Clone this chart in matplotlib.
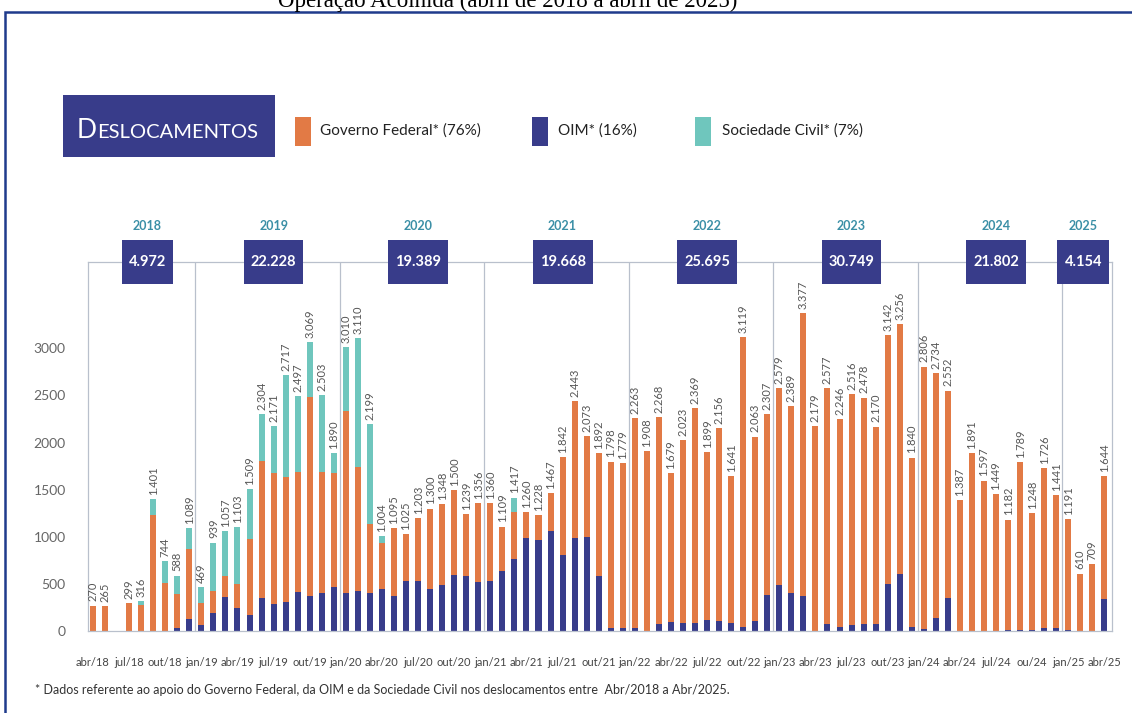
import numpy as np
import matplotlib.pyplot as plt
from matplotlib.patches import Rectangle
from matplotlib import transforms

# monthly totals abr/18 .. abr/25
total = [270, 265, 0, 299, 316, 1401, 744, 588, 1089,
         469, 939, 1057, 1103, 1509, 2304, 2171, 2717, 2497, 3069, 2503, 1890,
         3010, 3110, 2199, 1004, 1095, 1025, 1203, 1300, 1348, 1500, 1239, 1356,
         1360, 1109, 1417, 1260, 1228, 1467, 1842, 2443, 2073, 1892, 1798, 1779,
         2263, 1908, 2268, 1679, 2023, 2369, 1899, 2156, 1641, 3119, 2063, 2307,
         2579, 2389, 3377, 2179, 2577, 2246, 2516, 2478, 2170, 3142, 3256, 1840,
         2806, 2734, 2552, 1387, 1891, 1597, 1449, 1182, 1789, 1248, 1726, 1441,
         1191, 610, 709, 1644]

oim = [0, 0, 0, 0, 0, 0, 0, 28, 131,
       64, 188, 361, 248, 170, 347, 283, 312, 414, 372, 407, 467,
       407, 425, 407, 442, 372, 531, 531, 442, 485, 591, 584, 520,
       531, 637, 765, 984, 966, 1066, 807, 991, 1002, 584, 28, 35,
       28, 0, 78, 96, 88, 88, 117, 110, 88, 42, 103, 382,
       489, 400, 372, 0, 71, 42, 64, 78, 71, 496, 602, 42,
       25, 135, 354, 0, 0, 0, 0, 7, 7, 10, 28, 28,
       14, 0, 0, 336]

gov = [270, 265, 0, 299, 274, 1228, 513, 361, 743,
       230, 237, 223, 248, 811, 1458, 1399, 1327, 1278, 2113, 1285, 1215,
       1929, 1317, 733, 489, 723, 494, 672, 858, 863, 909, 655, 836,
       829, 472, 500, 276, 262, 401, 1035, 1452, 1071, 1308, 1770, 1744,
       2235, 1908, 2190, 1583, 1935, 2281, 1782, 2046, 1553, 3077, 1960, 1925,
       2090, 1989, 3005, 2179, 2506, 2204, 2452, 2400, 2099, 2646, 2654, 1798,
       2781, 2599, 2198, 1387, 1891, 1597, 1449, 1175, 1782, 1238, 1698, 1413,
       1177, 610, 709, 1308]

soc = [0, 0, 0, 0, 42, 173, 231, 199, 215,
       175, 514, 473, 607, 528, 499, 489, 1078, 805, 584, 811, 208,
       674, 1368, 1059, 73, 0, 0, 0, 0, 0, 0, 0, 0,
       0, 0, 152, 0, 0, 0, 0, 0, 0, 0, 0, 0] + [0] * 40

years = ['2018', '2019', '2020', '2021', '2022', '2023', '2024', '2025']
year_totals = ['4.972', '22.228', '19.389', '19.668', '25.695', '30.749', '21.802', '4.154']
year_first = [0, 9, 21, 33, 45, 57, 69, 81]

xtick_labels = ['abr/18', 'jul/18', 'out/18', 'jan/19', 'abr/19', 'jul/19', 'out/19',
                'jan/20', 'abr/20', 'jul/20', 'out/20', 'jan/21', 'abr/21', 'jul/21',
                'out/21', 'jan/22', 'abr/22', 'jul/22', 'out/22', 'jan/23', 'abr/23',
                'jul/23', 'out/23', 'jan/24', 'abr/24', 'jul/24', 'ou/24', 'jan/25', 'abr/25']

NAVY = '#383C8A'
ORANGE = '#E27A45'
TEAL = '#6FC6BD'
LINE = '#B9C0CC'
SANS = ['Lato', 'DejaVu Sans']

W, H = 1132, 713
fig = plt.figure(figsize=(W / 100, H / 100), dpi=100)
r = fig.canvas.get_renderer()

def fx(x):
    return x / W

def fy(y):
    return 1 - y / H

# outer frame and cut title
fig.patches.append(Rectangle((fx(5), fy(740)), fx(1150 - 5), (740 - 12) / H,
                             transform=fig.transFigure, fill=False, ec='#1F3B8C', lw=1.8))
fig.text(fx(508), fy(7), 'Operação Acolhida (abril de 2018 a abril de 2025)',
         family='Liberation Serif', fontsize=16.5, ha='center', va='baseline')

# header box
fig.patches.append(Rectangle((fx(63), fy(157)), fx(275 - 63), (157 - 95) / H,
                             transform=fig.transFigure, fc=NAVY, ec='none'))
t = fig.text(fx(77), fy(138), 'D', color='white', fontsize=19, family=SANS, va='baseline')
wd = t.get_window_extent(r).width
fig.text(fx(77 + wd), fy(138), 'ESLOCAMENTOS', color='white', fontsize=14.5, family=SANS,
         va='baseline')

# legend
for sx, tx, col, lab in [(295, 320, ORANGE, 'Governo Federal* (76%)'),
                         (532, 558, NAVY, 'OIM* (16%)'),
                         (695, 722, TEAL, 'Sociedade Civil* (7%)')]:
    fig.patches.append(Rectangle((fx(sx), fy(146)), fx(16), 29 / H,
                                 transform=fig.transFigure, fc=col, ec='none'))
    fig.text(fx(tx), fy(131), lab, fontsize=11, family=SANS, color='#222', va='center')

# chart
ax = fig.add_axes([fx(88), fy(631), (1112 - 88) / W, (631 - 262) / H])
x = np.arange(len(total))
oim_a = np.array(oim)
gov_a = np.array(gov)
ax.bar(x, oim, width=0.5, color=NAVY)
ax.bar(x, gov, width=0.5, bottom=oim_a, color=ORANGE)
ax.bar(x, soc, width=0.5, bottom=oim_a + gov_a, color=TEAL)

ax.set_xlim(-0.415, 84.63)
ax.set_ylim(0, 3917)
for s in ax.spines.values():
    s.set_color(LINE)
    s.set_linewidth(0.9)
for f in year_first[1:]:
    ax.axvline(f - 0.5, color=LINE, lw=0.9)

ax.set_yticks(range(0, 3001, 500))
ax.set_yticklabels([str(v) for v in range(0, 3001, 500)], family=SANS)
ax.set_xticks(x[::3])
ax.set_xticklabels(xtick_labels, family=SANS)
ax.tick_params(axis='y', length=0, pad=16, labelsize=10, colors='#666')
ax.tick_params(axis='x', length=0, pad=19, labelsize=8, colors='#444')

for i, v in enumerate(total):
    if v:
        ax.annotate(f'{v:,}'.replace(',', '.'), (i, v), xytext=(0, 3),
                    textcoords='offset points', rotation=90, ha='center', va='bottom',
                    fontsize=8, color='#555', family=SANS)

# year labels and yearly totals in navy boxes sitting on the top line
trans = transforms.blended_transform_factory(ax.transData, ax.transAxes)
inv = fig.transFigure.inverted()
ends = year_first[1:] + [len(total)]
xmax = ax.get_xlim()[1] - 0.25
for yr, tot, a, b in zip(years, year_totals, year_first, ends):
    tt = ax.text(0, 1.0, tot, transform=trans, ha='center', va='center', color='white',
                 fontweight='bold', fontsize=10.5, family=SANS, clip_on=False, zorder=6)
    bw = tt.get_window_extent(r).width + 14
    half = bw / 2 / (ax.transData.transform((1, 0))[0] - ax.transData.transform((0, 0))[0])
    c = min((a + b - 1) / 2 + 0.5, xmax - half)
    tt.set_x(c)
    bb = tt.get_window_extent(r)
    cx, cy = (bb.x0 + bb.x1) / 2, (bb.y0 + bb.y1) / 2
    bh = 43
    (x0, y0), (x1, y1) = inv.transform([(cx - bw / 2, cy - bh / 2), (cx + bw / 2, cy + bh / 2)])
    ax.add_patch(Rectangle((x0, y0), x1 - x0, y1 - y0, transform=fig.transFigure,
                           fc=NAVY, ec='none', zorder=5, clip_on=False))
    ax.text(c, 1.097, yr, transform=trans, ha='center', va='center', color='#3B8FA6',
            fontweight='bold', fontsize=9, family=SANS, clip_on=False)

fig.text(fx(35), fy(690), '* Dados referente ao apoio do Governo Federal, da OIM e da Sociedade '
         'Civil nos deslocamentos entre  Abr/2018 a Abr/2025.',
         fontsize=9, family=SANS, color='#333', va='center')

fig.savefig('out.png', dpi=100)
